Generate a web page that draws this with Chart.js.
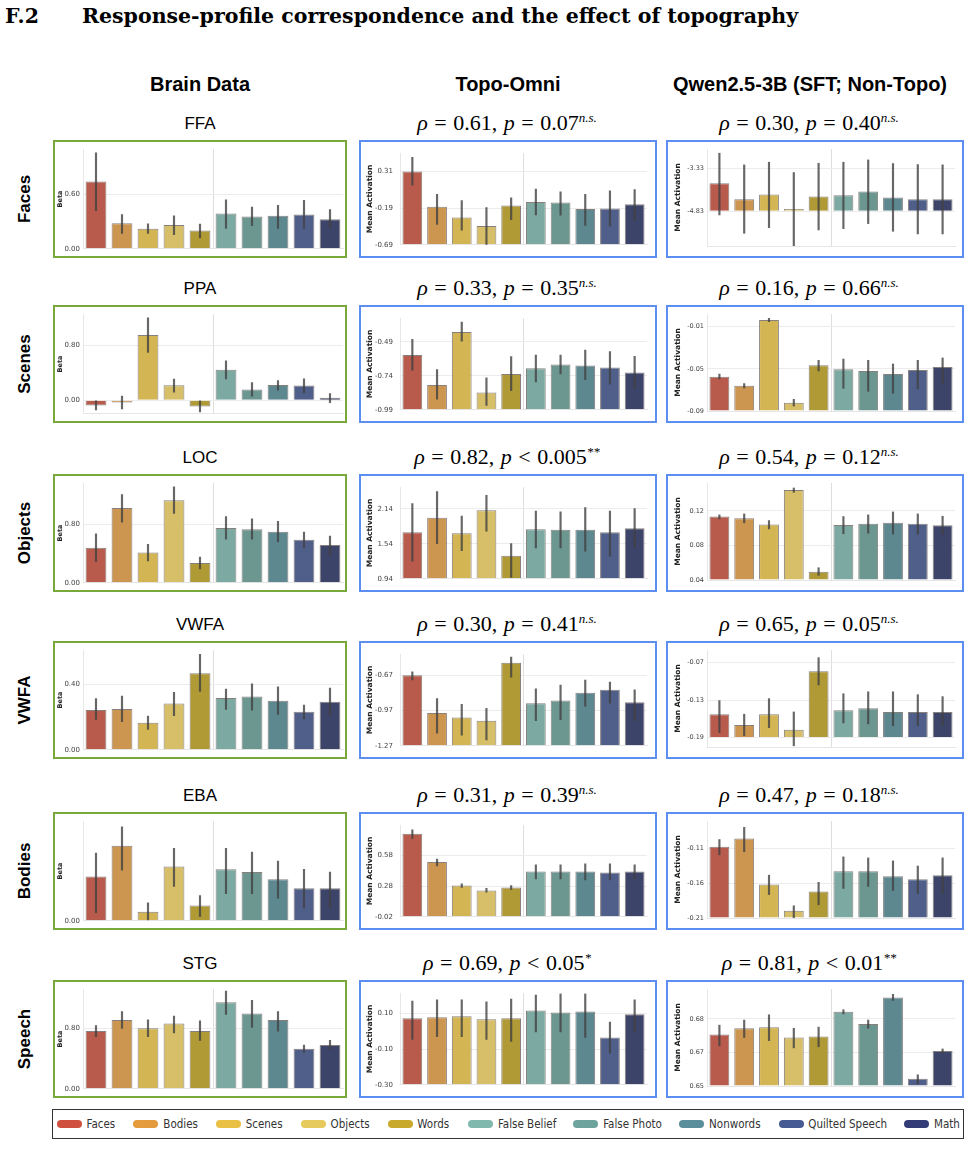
<!DOCTYPE html>
<html>
<head>
<meta charset="utf-8">
<script src="https://cdn.jsdelivr.net/npm/chart.js@4.4.1/dist/chart.umd.min.js"></script>
<style>
  body { margin: 0; background: #fff; }
  #page { position: relative; width: 971px; height: 1166px; overflow: hidden; }
  .abs { position: absolute; white-space: nowrap; }
  .heading { font-family: "DejaVu Serif", serif; font-weight: bold; font-size: 20.5px; top: 4px; }
  .colhead { font-family: "Liberation Sans", Arial, sans-serif; font-weight: bold; font-size: 20px; text-align: center; width: 340px; }
  .region { font-family: "Liberation Sans", Arial, sans-serif; font-size: 17px; text-align: center; width: 300px; height: 22px; line-height: 22px; }
  .stat { font-family: "Liberation Serif", serif; font-size: 22px; text-align: center; width: 320px; height: 24px; line-height: 24px; word-spacing: 1px; }
  .stat sup { font-size: 13px; font-style: italic; vertical-align: 8px; line-height: 0; }
  .rowlab { font-family: "Liberation Sans", Arial, sans-serif; font-weight: bold; font-size: 17px; width: 120px; text-align: center; transform: rotate(-90deg); }
  .box { position: absolute; box-sizing: border-box; border: 2px solid; }
  .box canvas { display: block; }
  #legend { position: absolute; left: 52px; top: 1109px; width: 912px; height: 30px; box-sizing: border-box; border: 1.5px solid #333; }
  .lg-pill { position: absolute; width: 25px; height: 8px; border-radius: 4px; top: 10px; }
  .lg-text { position: absolute; top: 6px; font-family: "Liberation Sans Narrow", "DejaVu Sans Condensed", sans-serif; font-size: 11.5px; color: #333; line-height: 16px; }
</style>
</head>
<body>
<div id="page"></div>
<script>
// categories and colours
const categories = ['Faces', 'Bodies', 'Scenes', 'Objects', 'Words', 'False Belief', 'False Photo', 'Nonwords', 'Quilted Speech', 'Math'];
const barColors = ['#b85b4d', '#cd9650', '#d3b653', '#d6bf68', '#b09a35', '#7caaa2', '#6c9791', '#5d8890', '#4f5f8a', '#3d446a'];
const legendColors = ['#d0503f', '#e39b3d', '#e9c043', '#e6ca5b', '#c8a92c', '#81b8ae', '#6da39c', '#5b8e9b', '#465b94', '#343c78'];

const columnTitles = ['Brain Data', 'Topo-Omni', 'Qwen2.5-3B (SFT; Non-Topo)'];
const regionNames = ['FFA', 'PPA', 'LOC', 'VWFA', 'EBA', 'STG'];
const rowLabels = ['Faces', 'Scenes', 'Objects', 'VWFA', 'Bodies', 'Speech'];

const topoRho = ['0.61', '0.33', '0.82', '0.30', '0.31', '0.69'];
const topoP = ['= 0.07', '= 0.35', '< 0.005', '= 0.41', '= 0.39', '< 0.05'];
const topoSig = ['n.s.', 'n.s.', '**', 'n.s.', 'n.s.', '*'];
const qwenRho = ['0.30', '0.16', '0.54', '0.65', '0.47', '0.81'];
const qwenP = ['= 0.40', '= 0.66', '= 0.12', '= 0.05', '= 0.18', '< 0.01'];
const qwenSig = ['n.s.', 'n.s.', 'n.s.', 'n.s.', 'n.s.', '**'];

// FFA (faces)
const ffaBrain = [0.743, 0.283, 0.222, 0.262, 0.201, 0.389, 0.358, 0.365, 0.378, 0.327];
const ffaBrainLo = [0.42, 0.170, 0.170, 0.157, 0.119, 0.225, 0.256, 0.225, 0.225, 0.225];
const ffaBrainHi = [1.06, 0.378, 0.276, 0.365, 0.273, 0.542, 0.46, 0.48, 0.535, 0.433];
const ffaTopo = [0.31, -0.17, -0.318, -0.435, -0.153, -0.106, -0.114, -0.201, -0.196, -0.136];
const ffaTopoLo = [0.124, -0.413, -0.49, -0.69, -0.348, -0.283, -0.287, -0.426, -0.435, -0.361];
const ffaTopoHi = [0.505, 0.0, -0.088, -0.183, -0.049, 0.072, 0.033, 0.0, 0.046, 0.063];
const ffaQwen = [-3.853, -4.411, -4.249, -4.749, -4.318, -4.272, -4.144, -4.353, -4.411, -4.411];
const ffaQwenLo = [-4.958, -5.597, -5.40, -6.03, -5.48, -5.435, -5.26, -5.527, -5.62, -5.62];
const ffaQwenHi = [-2.807, -3.214, -3.12, -3.48, -3.156, -3.12, -3.04, -3.167, -3.202, -3.214];

// PPA (scenes)
const ppaBrain = [-0.08, -0.036, 0.956, 0.219, -0.094, 0.447, 0.156, 0.223, 0.215, 0.036];
const ppaBrainLo = [-0.143, -0.13, 0.70, 0.116, -0.174, 0.313, 0.058, 0.147, 0.107, -0.036];
const ppaBrainHi = [-0.009, 0.058, 1.207, 0.308, -0.009, 0.577, 0.259, 0.286, 0.313, 0.098];
const ppaTopo = [-0.587, -0.807, -0.418, -0.863, -0.726, -0.684, -0.657, -0.664, -0.678, -0.715];
const ppaTopoLo = [-0.698, -0.911, -0.485, -0.958, -0.849, -0.784, -0.726, -0.768, -0.802, -0.837];
const ppaTopoHi = [-0.471, -0.694, -0.344, -0.754, -0.599, -0.587, -0.587, -0.55, -0.562, -0.596];
const ppaQwen = [-0.0574, -0.066, -0.0037, -0.0821, -0.0467, -0.0505, -0.052, -0.0549, -0.0511, -0.0483];
const ppaQwenLo = [-0.0596, -0.0682, -0.0053, -0.0853, -0.052, -0.0685, -0.0713, -0.0732, -0.0691, -0.0647];
const ppaQwenHi = [-0.055, -0.064, -0.0021, -0.0789, -0.0419, -0.0407, -0.0419, -0.0454, -0.0419, -0.0397];

// LOC (objects)
const locBrain = [0.481, 1.03, 0.417, 1.136, 0.272, 0.753, 0.736, 0.702, 0.591, 0.519];
const locBrainLo = [0.294, 0.834, 0.302, 0.953, 0.191, 0.6, 0.6, 0.562, 0.481, 0.379];
const locBrainHi = [0.672, 1.213, 0.528, 1.319, 0.353, 0.911, 0.881, 0.847, 0.698, 0.643];
const locTopo = [1.74, 1.989, 1.724, 2.118, 1.335, 1.789, 1.783, 1.783, 1.74, 1.81];
const locTopoLo = [1.243, 1.545, 1.421, 1.756, 0.962, 1.47, 1.47, 1.416, 1.324, 1.481];
const locTopoHi = [2.232, 2.437, 2.016, 2.372, 1.545, 2.102, 2.091, 2.162, 2.102, 2.145];
const locQwen = [0.1135, 0.1115, 0.1042, 0.1442, 0.0496, 0.1038, 0.105, 0.1062, 0.105, 0.1035];
const locQwenLo = [0.1108, 0.1062, 0.0992, 0.1415, 0.0454, 0.0935, 0.0942, 0.0931, 0.0931, 0.0927];
const locQwenHi = [0.1154, 0.1165, 0.1088, 0.1465, 0.0542, 0.1135, 0.1154, 0.1188, 0.1165, 0.1138];

// VWFA (words)
const vwfaBrain = [0.243, 0.249, 0.166, 0.283, 0.468, 0.317, 0.326, 0.3, 0.232, 0.294];
const vwfaBrainLo = [0.185, 0.172, 0.125, 0.209, 0.357, 0.247, 0.242, 0.217, 0.187, 0.211];
const vwfaBrainHi = [0.313, 0.328, 0.206, 0.351, 0.583, 0.372, 0.404, 0.385, 0.274, 0.377];
const vwfaTopo = [-0.67, -0.99, -1.03, -1.056, -0.563, -0.908, -0.884, -0.818, -0.793, -0.9];
const vwfaTopoLo = [-0.71, -1.163, -1.18, -1.22, -0.686, -1.056, -1.048, -0.933, -0.908, -1.056];
const vwfaTopoHi = [-0.64, -0.867, -0.917, -0.95, -0.514, -0.785, -0.752, -0.711, -0.728, -0.793];
const vwfaQwen = [-0.1526, -0.17, -0.1526, -0.1775, -0.084, -0.1464, -0.1432, -0.149, -0.149, -0.149];
const vwfaQwenLo = [-0.182, -0.187, -0.174, -0.203, -0.1058, -0.1666, -0.168, -0.171, -0.171, -0.171];
const vwfaQwenHi = [-0.1308, -0.1526, -0.1277, -0.149, -0.0622, -0.1199, -0.1168, -0.1168, -0.1214, -0.1245];

// EBA (bodies)
const ebaBrain = [0.454, 0.769, 0.093, 0.556, 0.157, 0.528, 0.5, 0.426, 0.333, 0.333];
const ebaBrainLo = [0.083, 0.519, 0.009, 0.352, 0.046, 0.278, 0.278, 0.231, 0.130, 0.130];
const ebaBrainHi = [0.694, 0.963, 0.185, 0.741, 0.259, 0.741, 0.704, 0.611, 0.528, 0.5];
const ebaTopo = [0.792, 0.515, 0.285, 0.238, 0.266, 0.423, 0.423, 0.423, 0.414, 0.423];
const ebaTopoLo = [0.746, 0.478, 0.266, 0.22, 0.248, 0.349, 0.349, 0.34, 0.34, 0.349];
const ebaTopoHi = [0.83, 0.543, 0.303, 0.257, 0.285, 0.488, 0.488, 0.497, 0.497, 0.488];
const ebaQwen = [-0.107, -0.0953, -0.1615, -0.1997, -0.1718, -0.1424, -0.1424, -0.1497, -0.1541, -0.1482];
const ebaQwenLo = [-0.1188, -0.1144, -0.1762, -0.21, -0.1909, -0.1674, -0.1644, -0.1703, -0.1747, -0.1747];
const ebaQwenHi = [-0.0968, -0.0791, -0.1482, -0.1924, -0.1585, -0.1218, -0.1232, -0.1276, -0.135, -0.1232];

// STG (speech)
const stgBrain = [0.763, 0.911, 0.8, 0.862, 0.763, 1.145, 0.997, 0.911, 0.529, 0.578];
const stgBrainLo = [0.689, 0.8, 0.689, 0.738, 0.64, 0.985, 0.812, 0.763, 0.48, 0.517];
const stgBrainHi = [0.837, 1.021, 0.911, 0.96, 0.898, 1.292, 1.169, 1.021, 0.578, 0.64];
const stgTopo = [0.073, 0.078, 0.084, 0.068, 0.073, 0.116, 0.105, 0.111, -0.035, 0.095];
const stgTopoLo = [-0.046, -0.03, -0.03, -0.046, -0.057, -0.003, -0.003, -0.035, -0.122, -0.003];
const stgTopoHi = [0.17, 0.176, 0.176, 0.165, 0.181, 0.203, 0.21, 0.21, 0.051, 0.176];
const stgQwen = [0.6769, 0.6797, 0.6802, 0.6755, 0.6759, 0.6872, 0.6816, 0.6937, 0.6568, 0.6694];
const stgQwenLo = [0.6717, 0.6755, 0.6741, 0.6708, 0.6713, 0.6862, 0.6797, 0.6923, 0.6544, 0.6685];
const stgQwenHi = [0.6811, 0.6834, 0.6858, 0.6797, 0.6802, 0.6881, 0.6834, 0.6951, 0.6586, 0.6703];

// y tick values per panel
const ffaBrainTicks = [0.0, 0.6];
const ffaTopoTicks = [-0.69, -0.19, 0.31];
const ffaQwenTicks = [-4.83, -3.33];
const ppaBrainTicks = [0.0, 0.8];
const ppaTopoTicks = [-0.99, -0.74, -0.49];
const ppaQwenTicks = [-0.09, -0.05, -0.01];
const locBrainTicks = [0.0, 0.8];
const locTopoTicks = [0.94, 1.54, 2.14];
const locQwenTicks = [0.04, 0.08, 0.12];
const vwfaBrainTicks = [0.0, 0.4];
const vwfaTopoTicks = [-1.27, -0.97, -0.67];
const vwfaQwenTicks = [-0.19, -0.13, -0.07];
const ebaBrainTicks = [0.0];
const ebaTopoTicks = [-0.02, 0.28, 0.58];
const ebaQwenTicks = [-0.21, -0.16, -0.11];
const stgBrainTicks = [0.0, 0.8];
const stgTopoTicks = [-0.30, -0.10, 0.10];
const stgQwenTicks = [0.6535, 0.6687, 0.6839];

// row, col, values, low, high, ticks, axis min, axis max, bar base
const panels = [
  [0, 0, ffaBrain, ffaBrainLo, ffaBrainHi, ffaBrainTicks, 0, 1.1, 0],
  [0, 1, ffaTopo, ffaTopoLo, ffaTopoHi, ffaTopoTicks, -0.69, 0.56, -0.69],
  [0, 2, ffaQwen, ffaQwenLo, ffaQwenHi, ffaQwenTicks, -6.04, -2.66, -4.83],
  [1, 0, ppaBrain, ppaBrainLo, ppaBrainHi, ppaBrainTicks, -0.2, 1.26, 0],
  [1, 1, ppaTopo, ppaTopoLo, ppaTopoHi, ppaTopoTicks, -0.99, -0.316, -0.99],
  [1, 2, ppaQwen, ppaQwenLo, ppaQwenHi, ppaQwenTicks, -0.09, 0.002, -0.09],
  [2, 0, locBrain, locBrainLo, locBrainHi, locBrainTicks, 0, 1.37, 0],
  [2, 1, locTopo, locTopoLo, locTopoHi, locTopoTicks, 0.94, 2.513, 0.94],
  [2, 2, locQwen, locQwenLo, locQwenHi, locQwenTicks, 0.04, 0.1523, 0.04],
  [3, 0, vwfaBrain, vwfaBrainLo, vwfaBrainHi, vwfaBrainTicks, 0, 0.609, 0],
  [3, 1, vwfaTopo, vwfaTopoLo, vwfaTopoHi, vwfaTopoTicks, -1.27, -0.49, -1.27],
  [3, 2, vwfaQwen, vwfaQwenLo, vwfaQwenHi, vwfaQwenTicks, -0.205, -0.05, -0.19],
  [4, 0, ebaBrain, ebaBrainLo, ebaBrainHi, ebaBrainTicks, 0, 1.02, 0],
  [4, 1, ebaTopo, ebaTopoLo, ebaTopoHi, ebaTopoTicks, -0.02, 0.875, -0.02],
  [4, 2, ebaQwen, ebaQwenLo, ebaQwenHi, ebaQwenTicks, -0.21, -0.07, -0.21],
  [5, 0, stgBrain, stgBrainLo, stgBrainHi, stgBrainTicks, 0, 1.317, 0],
  [5, 1, stgTopo, stgTopoLo, stgTopoHi, stgTopoTicks, -0.30, 0.2135, -0.30],
  [5, 2, stgQwen, stgQwenLo, stgQwenHi, stgQwenTicks, 0.6535, 0.6975, 0.6535]
];

// layout
const rowTops = [140, 305, 474, 641, 812, 980];
const boxHeight = 118;
const cols = [
  { left: 53, width: 294, border: '#78a83b', yWidth: 28, yTitle: 'Beta', titleSize: 6.5, titlePad: 1, tickPad: 3, tickSize: 7, pad: { top: 1, right: 2, bottom: 5, left: 0 } },
  { left: 359, width: 298, border: '#5b8ef0', yWidth: 39, yTitle: 'Mean Activation', titleSize: 7.5, titlePad: 4.5, tickPad: 7, tickSize: 7, pad: { top: 7, right: 8, bottom: 10, left: 0 } },
  { left: 666, width: 298, border: '#5b8ef0', yWidth: 39, yTitle: 'Mean Activation', titleSize: 7.5, titlePad: 6, tickPad: 3, tickSize: 6.5, pad: { top: 7, right: 7, bottom: 10, left: 0 } }
];

const page = document.getElementById('page');

function addText(cls, html, left, top) {
  const d = document.createElement('div');
  d.className = 'abs ' + cls;
  d.innerHTML = html;
  d.style.left = left + 'px';
  d.style.top = top + 'px';
  page.appendChild(d);
  return d;
}

// heading
addText('heading', 'F.2', 5, 4);
addText('heading', 'Response-profile correspondence and the effect of topography', 82, 4);

// column headers
cols.forEach((c, i) => addText('colhead', columnTitles[i], c.left + c.width / 2 - 170 - (i === 2 ? 5 : 0), 73));

// row titles + row labels
rowTops.forEach((top, r) => {
  addText('region', regionNames[r], cols[0].left + cols[0].width / 2 - 150, top - 27);
  addText('stat', '<i>ρ</i> = ' + topoRho[r] + ', <i>p</i> ' + topoP[r] + '<sup>' + topoSig[r] + '</sup>', cols[1].left + cols[1].width / 2 - 161, top - 29);
  addText('stat', '<i>ρ</i> = ' + qwenRho[r] + ', <i>p</i> ' + qwenP[r] + '<sup>' + qwenSig[r] + '</sup>', cols[2].left + cols[2].width / 2 - 166, top - 29);
  const lab = addText('rowlab', rowLabels[r], 25 - 60, top + boxHeight / 2 - 10);
  lab.style.height = '20px';
  lab.style.lineHeight = '20px';
});

function makePanel(spec) {
  const [row, col, values, lo, hi, ticks, yMin, yMax, base] = spec;
  const c = cols[col];
  const box = document.createElement('div');
  box.className = 'box';
  box.style.left = c.left + 'px';
  box.style.top = rowTops[row] + 'px';
  box.style.width = c.width + 'px';
  box.style.height = boxHeight + 'px';
  box.style.borderColor = c.border;
  const canvas = document.createElement('canvas');
  canvas.width = c.width - 4;
  canvas.height = boxHeight - 4;
  box.appendChild(canvas);
  page.appendChild(box);

  new Chart(canvas, {
    type: 'bar',
    data: {
      labels: categories,
      datasets: [
        {
          data: values,
          base: base,
          backgroundColor: barColors,
          borderColor: 'rgba(70, 60, 55, 0.65)',
          borderWidth: 1,
          barPercentage: 0.8,
          categoryPercentage: 1.0,
          grouped: false,
          order: 1
        },
        {
          data: lo.map((l, i) => [l, hi[i]]),
          backgroundColor: 'rgba(65, 65, 65, 0.8)',
          borderWidth: 0,
          barThickness: 1.5,
          grouped: false,
          order: 0
        }
      ]
    },
    options: {
      responsive: false,
      animation: false,
      layout: { padding: c.pad },
      plugins: { legend: { display: false }, tooltip: { enabled: false } },
      scales: {
        x: {
          type: 'category',
          offset: true,
          ticks: { display: false },
          grid: {
            offset: true,
            drawTicks: false,
            color: ctx => ctx.index === 5 ? '#dedede' : 'rgba(0,0,0,0)'
          },
          border: { display: true, color: '#e6e6e6' },
          afterFit: s => { s.height = 0; }
        },
        y: {
          min: yMin,
          max: yMax,
          afterBuildTicks: s => { s.ticks = ticks.map(v => ({ value: v })); },
          ticks: {
            padding: c.tickPad,
            color: '#444',
            font: { family: 'DejaVu Sans', size: c.tickSize },
            callback: v => Number(v).toFixed(2)
          },
          grid: { color: '#ececec', drawTicks: false },
          border: { display: true, color: '#e6e6e6' },
          title: {
            display: true,
            text: c.yTitle,
            color: '#222',
            padding: { top: c.titlePad, bottom: 0 },
            font: { family: 'DejaVu Sans', size: c.titleSize, weight: 'bold' }
          },
          afterFit: s => { s.width = c.yWidth; }
        }
      }
    }
  });
}

panels.forEach(makePanel);

// legend
const legendPill = [3.7, 80, 163, 247.8, 334.6, 414.5, 519.8, 626.4, 725.5, 851.3];
const legendText = [33.5, 110.3, 192.7, 277.6, 364.3, 444.9, 550.2, 656.1, 755.3, 881];
const legend = document.createElement('div');
legend.id = 'legend';
page.appendChild(legend);
categories.forEach((name, i) => {
  const p = document.createElement('div');
  p.className = 'lg-pill';
  p.style.left = legendPill[i] + 'px';
  p.style.background = legendColors[i];
  legend.appendChild(p);
  const t = document.createElement('div');
  t.className = 'lg-text';
  t.style.left = legendText[i] + 'px';
  t.textContent = name;
  legend.appendChild(t);
});
</script>
</body>
</html>
